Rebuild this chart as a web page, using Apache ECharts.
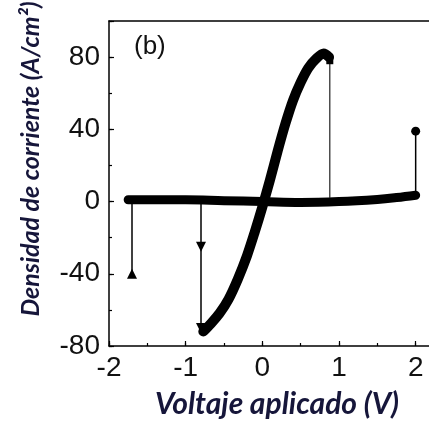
<!DOCTYPE html>
<html>
<head>
<meta charset="utf-8">
<script src="https://cdn.jsdelivr.net/npm/echarts@6/dist/echarts.min.js"></script>
<style>
html,body{margin:0;padding:0;background:#fff;}
#chart{width:429px;height:421px;}
</style>
</head>
<body>
<div id="chart"></div>
<script>
// Low-resistance (flat) branch
const bandV = [-1.75, -1.5, -1.0, -0.5, 0.0, 0.5, 1.0, 1.5, 1.75, 2.0];
const bandJ = [1, 1, 1, 0.5, 0, -0.5, 0, 1.2, 2.2, 3.5];
// S-shaped branch
const curveV = [-0.77, -0.68, -0.56, -0.44, -0.32, -0.2, -0.1, 0.0, 0.1, 0.2, 0.3, 0.4, 0.5, 0.6, 0.7, 0.8, 0.87];
const curveJ = [-72, -68, -62, -54, -43, -30, -17, -3, 12, 28, 43, 56, 66, 74, 79, 82, 80];
// Vertical switching jumps
const jump1V = [-1.7, -1.7];
const jump1J = [0, -40];
const jump2V = [-0.8, -0.8, -0.8];
const jump2J = [0, -25, -70];
const jump3V = [0.88, 0.88];
const jump3J = [78, 2];
const jump4V = [2.0, 2.0];
const jump4J = [3.5, 39];
// Axis ticks
const xTicks = [-2, -1, 0, 1, 2];
const yTicks = [-80, -40, 0, 40, 80];

const zip = (a, b) => a.map((v, i) => [v, b[i]]);

const chart = echarts.init(document.getElementById('chart'), null, {renderer: 'canvas'});
const tickFont = {fontFamily: 'Liberation Sans, Arial, sans-serif', fontSize: 28, color: '#111'};
const titleFont = {fontFamily: 'Lato, "Open Sans", sans-serif', fontWeight: 'bold', fontStyle: 'italic', fill: '#16163a'};

chart.setOption({
  animation: false,
  backgroundColor: '#fff',
  grid: {left: 109, top: 21, width: 322, height: 325, outerBoundsMode: 'none', containLabel: false},
  xAxis: [
    {type: 'value', position: 'bottom', min: -2, max: 2.2, interval: 1,
     axisLine: {onZero: false, lineStyle: {color: '#000', width: 1.5}},
     axisTick: {inside: true, length: 5, lineStyle: {color: '#000', width: 1.2}},
     axisLabel: {margin: 8, ...tickFont, formatter: v => xTicks.includes(v) ? String(v) : ''},
     splitLine: {show: false}},
    {type: 'value', position: 'bottom', min: -2, max: 2.2, interval: 0.5,
     axisLine: {show: false, onZero: false},
     axisTick: {inside: true, length: 3, lineStyle: {color: '#000', width: 1.2}},
     axisLabel: {show: false}, splitLine: {show: false}},
    {type: 'value', position: 'top', min: -2, max: 2.2,
     axisLine: {onZero: false, lineStyle: {color: '#000', width: 1.5}},
     axisTick: {show: false}, axisLabel: {show: false}, splitLine: {show: false}}
  ],
  yAxis: [
    {type: 'value', position: 'left', min: -80, max: 100, interval: 40,
     axisLine: {onZero: false, lineStyle: {color: '#000', width: 1.5}},
     axisTick: {inside: true, length: 5, lineStyle: {color: '#000', width: 1.2}},
     axisLabel: {margin: 9, ...tickFont, formatter: v => yTicks.includes(v) ? String(v) : ''},
     splitLine: {show: false}},
    {type: 'value', position: 'left', min: -80, max: 100, interval: 20,
     axisLine: {show: false, onZero: false},
     axisTick: {inside: true, length: 3, lineStyle: {color: '#000', width: 1.2}},
     axisLabel: {show: false}, splitLine: {show: false}},
    {type: 'value', position: 'right', min: -80, max: 100,
     axisLine: {onZero: false, lineStyle: {color: '#000', width: 1.5}},
     axisTick: {show: false}, axisLabel: {show: false}, splitLine: {show: false}}
  ],
  series: [
    {type: 'line', data: zip(bandV, bandJ), smooth: 0.4, symbol: 'none',
     lineStyle: {color: '#000', width: 9, cap: 'round'}},
    {type: 'line', data: zip(curveV, curveJ), smooth: 0.3, symbol: 'none',
     lineStyle: {color: '#000', width: 10, cap: 'round', join: 'round'}},
    {type: 'line', data: zip(jump1V, jump1J).map((d, i) => ({value: d, symbol: i === 1 ? 'triangle' : 'none'})),
     symbolSize: 10, itemStyle: {color: '#000'}, lineStyle: {color: '#000', width: 1.5}},
    {type: 'line', data: zip(jump2V, jump2J).map((d, i) => ({value: d, symbol: i === 0 ? 'none' : 'triangle'})),
     symbolSize: 10, symbolRotate: 180, itemStyle: {color: '#000'}, lineStyle: {color: '#000', width: 1.5}},
    {type: 'line', data: zip(jump3V, jump3J).map((d, i) => ({value: d, symbol: i === 0 ? 'rect' : 'none'})),
     symbolSize: 7, itemStyle: {color: '#000'}, lineStyle: {color: '#222', width: 1.2}},
    {type: 'line', data: zip(jump4V, jump4J).map((d, i) => ({value: d, symbol: i === 1 ? 'circle' : 'none'})),
     symbolSize: 9, itemStyle: {color: '#000'}, lineStyle: {color: '#000', width: 1.5}}
  ],
  graphic: [
    {type: 'text', x: 134, y: 47, style: {text: '(b)', fontFamily: 'Liberation Sans, Arial, sans-serif', fontSize: 26, fill: '#111', verticalAlign: 'middle'}},
    {type: 'text', x: 31, y: 159, rotation: Math.PI / 2,
     style: {text: 'Densidad de corriente (A/cm²)', align: 'center', verticalAlign: 'middle', fontSize: 25, ...titleFont}},
    {type: 'text', x: 277, y: 404,
     style: {text: 'Voltaje aplicado (V)', align: 'center', verticalAlign: 'middle', fontSize: 30, ...titleFont}}
  ]
});
</script>
</body>
</html>
